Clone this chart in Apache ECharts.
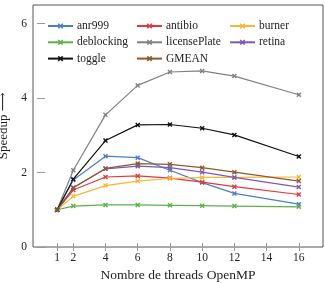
<!DOCTYPE html>
<html>
<head>
<meta charset="utf-8">
<script src="https://cdn.jsdelivr.net/npm/echarts@6/dist/echarts.min.js"></script>
<style>
  html, body { margin: 0; padding: 0; background: #fff; }
  #chart { width: 325px; height: 283px; }
</style>
</head>
<body>
<div id="chart"></div>
<script>
// nombre de threads OpenMP
var threads = [1, 2, 4, 6, 8, 10, 12, 16];
var xTicks = [1, 2, 4, 6, 8, 10, 12, 14, 16];
var yTicks = [0, 2, 4, 6];

var anr999       = [1, 1.80, 2.44, 2.40, 2.06, 1.73, 1.44, 1.15];
var antibio      = [1, 1.53, 1.88, 1.91, 1.85, 1.74, 1.62, 1.41];
var burner       = [1, 1.36, 1.65, 1.77, 1.84, 1.87, 1.87, 1.88];
var deblocking   = [1, 1.10, 1.13, 1.13, 1.12, 1.11, 1.10, 1.08];
var licensePlate = [1, 2.06, 3.55, 4.34, 4.70, 4.73, 4.59, 4.09];
var retina       = [1, 1.59, 2.10, 2.17, 2.13, 2.01, 1.87, 1.61];
var toggle       = [1, 1.82, 2.86, 3.28, 3.29, 3.19, 3.01, 2.43];
var gmean        = [1, 1.59, 2.11, 2.24, 2.22, 2.13, 2.01, 1.77];

var names  = ['anr999', 'antibio', 'burner', 'deblocking', 'licensePlate', 'retina', 'toggle', 'GMEAN'];
var values = [anr999, antibio, burner, deblocking, licensePlate, retina, toggle, gmean];
var colors = ['#4a7fc6', '#e0393c', '#f7b733', '#5cb04a', '#808080', '#7b58bd', '#111111', '#8c5a2b'];

var cross = 'path://M0,2L2,0L5,3L8,0L10,2L7,5L10,8L8,10L5,7L2,10L0,8L3,5Z';
var font = '"Liberation Serif", "DejaVu Serif", serif';

var series = names.map(function (n, i) {
  return {
    name: n,
    type: 'line',
    data: threads.map(function (t, j) { return [t, values[i][j]]; }),
    symbol: cross,
    symbolSize: 5,
    showSymbol: true,
    lineStyle: { width: 1.2, color: colors[i] },
    itemStyle: { color: colors[i] },
    animation: false
  };
});

function legendCol(left, data) {
  return {
    orient: 'vertical',
    left: left,
    top: 20,
    padding: 0,
    itemWidth: 25,
    itemHeight: 7,
    itemGap: 4.3,
    data: data,
    textStyle: { fontFamily: font, fontSize: 11.5, color: '#222', padding: [0, 0, 0, -1] }
  };
}

var tickStyle = { show: true, inside: true, length: 4, lineStyle: { color: '#999', width: 1 } };

var chart = echarts.init(document.getElementById('chart'), null, { renderer: 'canvas' });
chart.setOption({
  backgroundColor: '#fff',
  animation: false,
  grid: {
    left: 33, right: 2, top: 5, bottom: 36,
    outerBoundsMode: 'none', containLabel: false,
    show: true, borderColor: '#555', borderWidth: 1
  },
  legend: [
    legendCol(47, ['anr999', 'deblocking', 'toggle']),
    legendCol(136, ['antibio', 'licensePlate', 'GMEAN']),
    legendCol(229, ['burner', 'retina'])
  ],
  xAxis: [{
    type: 'value', min: -0.5, max: 17.5,
    name: 'Nombre de threads OpenMP', nameLocation: 'middle', nameGap: 21,
    nameTextStyle: { fontFamily: font, fontSize: 13.5, color: '#222' },
    axisLine: { show: false },
    axisTick: Object.assign({ customValues: xTicks }, tickStyle),
    axisLabel: { customValues: xTicks, fontFamily: font, fontSize: 11.5, color: '#222', margin: 5 },
    splitLine: { show: false }
  }, {
    type: 'value', min: -0.5, max: 17.5, position: 'top',
    axisLine: { show: false },
    axisTick: Object.assign({ customValues: xTicks }, tickStyle),
    axisLabel: { show: false },
    splitLine: { show: false }
  }],
  yAxis: [{
    type: 'value', min: 0, max: 6.5,
    name: 'Speedup ⟶', nameLocation: 'middle', nameGap: 22, nameRotate: 90,
    nameTextStyle: { fontFamily: font, fontSize: 13, color: '#222' },
    axisLine: { show: false },
    axisTick: Object.assign({ customValues: yTicks }, tickStyle),
    axisLabel: { customValues: yTicks, fontFamily: font, fontSize: 11.5, color: '#222', margin: 6 },
    splitLine: { show: false }
  }, {
    type: 'value', min: 0, max: 6.5, position: 'right',
    axisLine: { show: false },
    axisTick: Object.assign({ customValues: yTicks }, tickStyle),
    axisLabel: { show: false },
    splitLine: { show: false }
  }],
  series: series
});
</script>
</body>
</html>
